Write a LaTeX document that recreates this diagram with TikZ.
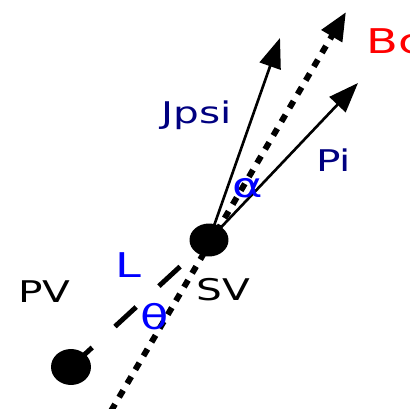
\documentclass[tikz,border=0pt]{standalone}
\usepackage{fontspec}
\setmainfont[FakeStretch=1.36]{DejaVu Sans}
\usetikzlibrary{shapes.geometric, arrows.meta}
\definecolor{darknavy}{HTML}{000080}
\tikzstyle{vertex} = [ellipse, fill=black, inner sep=0pt]
\tikzstyle{track} = [-{Triangle[length=17pt,width=12.5pt]}, line width=1.5pt]
\tikzstyle{flight} = [line width=2.8pt, dash pattern=on 16.4pt off 17.6pt]
\tikzstyle{bline} = [-{Triangle[length=16pt,width=13pt]}, line width=3.4pt,
                     dash pattern=on 4.5pt off 4.6pt]
\tikzstyle{label} = [font=\fontsize{17}{20}\selectfont, inner sep=0pt, anchor=base west]
\tikzstyle{biglabel} = [font=\fontsize{19.4}{23}\selectfont, inner sep=0pt, anchor=base west]

\begin{document}
\begin{tikzpicture}[x=0.02cm, y=-0.02cm]
    \useasboundingbox (0,0) rectangle (410,409);

    \node[vertex, minimum width=0.8cm, minimum height=0.72cm] (pv) at (71,367) {};
    \node[vertex, minimum width=0.78cm, minimum height=0.66cm] (sv) at (209,240) {};

    \coordinate (bstart) at (111,411);
    \coordinate (bctip) at (346,12);
    \coordinate (jpsitip) at (280,38);
    \coordinate (pitip) at (358,83);

    \draw[flight] (pv.center) -- (sv.center);
    \draw[bline] (bstart) -- (bctip);
    \draw[track] (sv.center) -- (jpsitip);
    \draw[track] (sv.center) -- (pitip);

    \node[biglabel, red] (bc) at (366,53) {Bc};
    \node[label, darknavy] (jpsi) at (161,124) {Jpsi};
    \node[label, darknavy] (pi) at (316,172) {Pi};
    \node[biglabel, blue] (alpha) at (232,197) {α};
    \node[biglabel, blue] (len) at (115,277) {L};
    \node[biglabel, blue] (theta) at (140,330) {θ};
    \node[label] (pvtext) at (18,302) {PV};
    \node[label] (svtext) at (196,300) {SV};
\end{tikzpicture}
\end{document}
